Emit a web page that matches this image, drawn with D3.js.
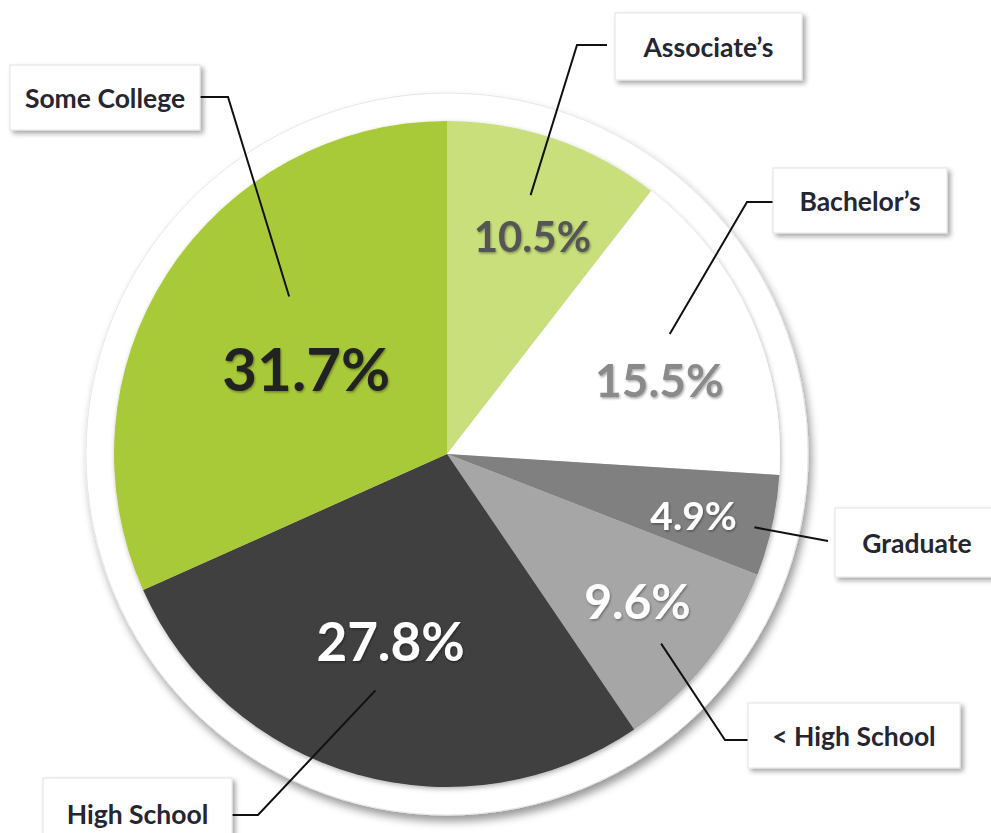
<!DOCTYPE html>
<html>
<head>
<meta charset="utf-8">
<script src="https://cdn.jsdelivr.net/npm/d3@7"></script>
<style>
  body { margin: 0; background: #fff; }
  svg { display: block; font-family: Lato, "Open Sans", sans-serif; }
</style>
</head>
<body>
<div id="chart"></div>
<script>
// data (clockwise from 12 o'clock)
const categories = ["Associate\u2019s", "Bachelor\u2019s", "Graduate", "< High School", "High School", "Some College"];
const shares = [10.5, 15.5, 4.9, 9.6, 27.8, 31.7];
const sliceColors = ["#c8df7c", "#ffffff", "#808080", "#a6a6a6", "#404040", "#a9ca38"];

// layout for the value labels (radius from centre, angle nudge, size, colour)
const valueLayout = [
  {r: 234, da: 2.5, size: 42, fill: "#555"},
  {r: 225, da: 5,   size: 46, fill: "#8a8a8a"},
  {r: 254, da: 1.5, size: 39, fill: "#fff"},
  {r: 240, da: -1,  size: 48, fill: "#fff"},
  {r: 195, da: 1,   size: 53, fill: "#fff"},
  {r: 165, da: -1.5, size: 60, fill: "#222"}
];

// layout for the callout boxes and leader lines
const calloutLayout = [
  {box: [615, 13, 187, 67],  elbow: [577, 45],  end: [607, 45],  r: 272, da: -1},
  {box: [773, 168, 174, 65], elbow: [747, 202], end: [775, 202], r: 253, da: -4},
  {box: [835, 508, 180, 69], elbow: null,       end: [828, 541], r: 316, da: 1},
  {box: [748, 703, 212, 65], elbow: [725, 740], end: [748, 740], r: 286, da: 3},
  {box: [43, 778, 189, 70],  elbow: [258, 815], end: [232, 815], r: 247, da: 1},
  {box: [10, 65, 190, 65],   elbow: [228, 97],  end: [200, 97],  r: 223, da: 12}
];

const W = 991, H = 833;
const cx = 447, cy = 454, R = 333, ringR = 361;

const svg = d3.select("#chart").append("svg")
  .attr("width", W).attr("height", H);

const defs = svg.append("defs");
defs.append("filter").attr("id", "ringShadow")
  .attr("x", "-10%").attr("y", "-10%").attr("width", "120%").attr("height", "120%")
  .append("feDropShadow")
    .attr("dx", 3).attr("dy", 6).attr("stdDeviation", 4)
    .attr("flood-color", "#000").attr("flood-opacity", 0.4);
defs.append("filter").attr("id", "pieShadow")
  .attr("x", "-10%").attr("y", "-10%").attr("width", "120%").attr("height", "120%")
  .append("feDropShadow")
    .attr("dx", 1).attr("dy", 2).attr("stdDeviation", 2.5)
    .attr("flood-color", "#000").attr("flood-opacity", 0.3);
defs.append("filter").attr("id", "boxShadow")
  .attr("x", "-10%").attr("y", "-20%").attr("width", "130%").attr("height", "150%")
  .append("feDropShadow")
    .attr("dx", 3).attr("dy", 3).attr("stdDeviation", 2.5)
    .attr("flood-color", "#000").attr("flood-opacity", 0.35);
defs.append("filter").attr("id", "textShadow")
  .append("feDropShadow")
    .attr("dx", 1).attr("dy", 1.5).attr("stdDeviation", 1)
    .attr("flood-color", "#000").attr("flood-opacity", 0.35);

const data = categories.map((c, i) => ({name: c, value: shares[i], color: sliceColors[i], i: i}));

const pie = d3.pie().sort(null).value(d => d.value);
const arcs = pie(data);
const arc = d3.arc().innerRadius(0).outerRadius(R);

const g = svg.append("g").attr("transform", `translate(${cx},${cy})`);

// white outer ring
g.append("circle")
  .attr("r", ringR)
  .attr("fill", "#fff")
  .attr("stroke", "#e6e6e6")
  .attr("stroke-width", 1)
  .attr("filter", "url(#ringShadow)");

// slices
const slices = g.append("g").attr("filter", "url(#pieShadow)");
slices.selectAll("path")
  .data(arcs)
  .join("path")
    .attr("d", arc)
    .attr("fill", d => d.data.color);

// leader lines
const lines = svg.append("g")
  .attr("fill", "none").attr("stroke", "#111").attr("stroke-width", 2);
arcs.forEach((a, i) => {
  const L = calloutLayout[i];
  const ang = (a.startAngle + a.endAngle) / 2 + L.da * Math.PI / 180;
  const p = [cx + L.r * Math.sin(ang), cy - L.r * Math.cos(ang)];
  const pts = L.elbow ? [p, L.elbow, L.end] : [p, L.end];
  lines.append("path").attr("d", d3.line()(pts));
});

// callout boxes
const boxes = svg.append("g");
arcs.forEach((a, i) => {
  const L = calloutLayout[i];
  const [x, y, w, h] = L.box;
  boxes.append("rect")
    .attr("x", x).attr("y", y).attr("width", w).attr("height", h)
    .attr("fill", "#fff")
    .attr("stroke", "#e2e2e2").attr("stroke-width", 1)
    .attr("filter", "url(#boxShadow)");
  boxes.append("text")
    .attr("x", x + (i === 2 ? 82 : w / 2))
    .attr("y", y + (i === 4 ? 36 : h / 2))
    .attr("text-anchor", "middle")
    .attr("dominant-baseline", "central")
    .attr("font-size", 26.5)
    .attr("font-weight", 700)
    .attr("fill", "#262633")
    .text(a.data.name);
});

// value labels
const vals = g.append("g").attr("filter", "url(#textShadow)");
arcs.forEach((a, i) => {
  const V = valueLayout[i];
  const ang = (a.startAngle + a.endAngle) / 2 + V.da * Math.PI / 180;
  vals.append("text")
    .attr("x", V.r * Math.sin(ang))
    .attr("y", -V.r * Math.cos(ang))
    .attr("text-anchor", "middle")
    .attr("dominant-baseline", "central")
    .attr("font-size", V.size)
    .attr("font-weight", 700)
    .attr("fill", V.fill)
    .text(d3.format(".1f")(a.data.value) + "%");
});
</script>
</body>
</html>
